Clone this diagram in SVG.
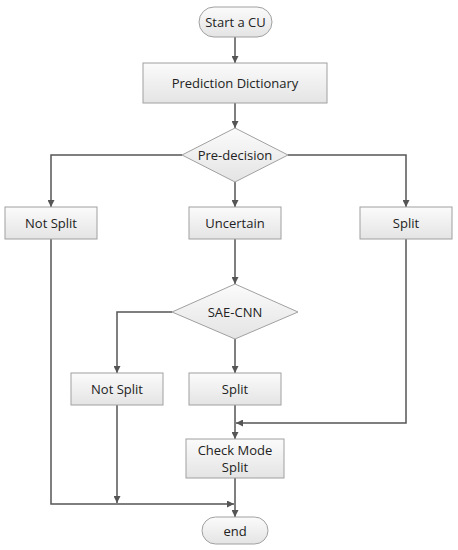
<svg xmlns="http://www.w3.org/2000/svg" width="458" height="550" viewBox="0 0 458 550">
<defs>
<linearGradient id="g" x1="0" y1="0" x2="0" y2="1">
<stop offset="0" stop-color="#fbfbfb"/>
<stop offset="1" stop-color="#e4e4e4"/>
</linearGradient>
<marker id="a" viewBox="0 0 10 10" refX="10" refY="5" markerWidth="7" markerHeight="7" orient="auto" markerUnits="userSpaceOnUse">
<path d="M0,0 L10,5 L0,10 Z" fill="#555"/>
</marker>
<style>
.s{fill:url(#g);stroke:#a0a0a0;stroke-width:1}
.t{font-family:"Open Sans","Noto Sans",sans-serif;font-size:13px;fill:#222;text-anchor:middle;dominant-baseline:central}
.c{fill:none;stroke:#555;stroke-width:1.5;marker-end:url(#a)}
</style>
</defs>
<rect width="458" height="550" fill="#fff"/>
<g id="connectors">
<path class="c" d="M235,37 V63"/>
<path class="c" d="M235,103 V128"/>
<path class="c" d="M182,155 H51 V207"/>
<path class="c" d="M235,182 V207"/>
<path class="c" d="M288,155 H406 V207"/>
<path class="c" d="M235,239 V284"/>
<path class="c" d="M172,312 H117 V373"/>
<path class="c" d="M235,339 V373"/>
<path class="c" d="M235,405 V439"/>
<path class="c" d="M406,239 V423 H236"/>
<path class="c" d="M117,405 V503"/>
<path class="c" d="M51,239 V504 H234"/>
<path class="c" d="M235,478 V517"/>
</g>
<g id="start"><rect class="s" x="199" y="7" width="73" height="30" rx="15"/><text class="t" x="235.5" y="22">Start a CU</text></g>
<g id="dict"><rect class="s" x="143" y="63" width="184" height="40"/><text class="t" x="235" y="83">Prediction Dictionary</text></g>
<g id="predecision"><polygon class="s" points="235,128 288,155 235,182 182,155"/><text class="t" x="235" y="155">Pre-decision</text></g>
<g id="notsplit1"><rect class="s" x="5" y="207" width="92" height="32"/><text class="t" x="51" y="223">Not Split</text></g>
<g id="uncertain"><rect class="s" x="189" y="207" width="92" height="32"/><text class="t" x="235" y="223">Uncertain</text></g>
<g id="split1"><rect class="s" x="360" y="207" width="92" height="32"/><text class="t" x="406" y="223">Split</text></g>
<g id="saecnn"><polygon class="s" points="235,284 298,312 235,339 172,312"/><text class="t" x="235" y="312">SAE-CNN</text></g>
<g id="notsplit2"><rect class="s" x="71" y="373" width="92" height="32"/><text class="t" x="117" y="389">Not Split</text></g>
<g id="split2"><rect class="s" x="189" y="373" width="92" height="32"/><text class="t" x="235" y="389">Split</text></g>
<g id="check"><rect class="s" x="186" y="439" width="98" height="39"/><text class="t" x="235" y="450">Check Mode</text><text class="t" x="235" y="467">Split</text></g>
<g id="end"><rect class="s" x="202" y="517" width="66" height="27" rx="13.5"/><text class="t" x="235" y="530.5">end</text></g>
</svg>
